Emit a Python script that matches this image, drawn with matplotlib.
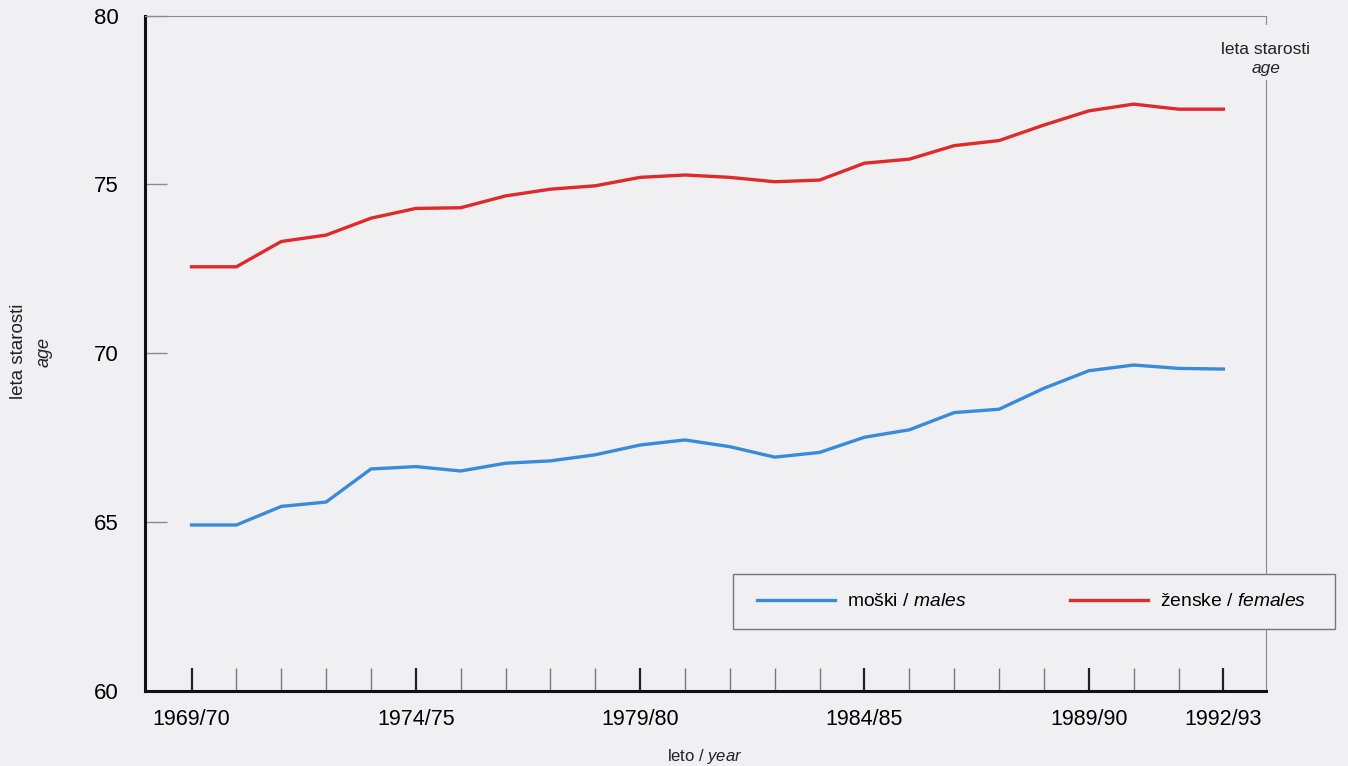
import matplotlib
matplotlib.use("Agg")
import matplotlib.pyplot as plt
from matplotlib.patches import Rectangle

plt.rcParams['font.family'] = ['Liberation Sans', 'DejaVu Sans']
plt.rcParams['mathtext.fontset'] = 'custom'
plt.rcParams['mathtext.rm'] = 'Liberation Sans'
plt.rcParams['mathtext.it'] = 'Liberation Sans:italic'

# ---- data ----
seasons = ["1969/70", "1970/71", "1971/72", "1972/73", "1973/74", "1974/75",
           "1975/76", "1976/77", "1977/78", "1978/79", "1979/80", "1980/81",
           "1981/82", "1982/83", "1983/84", "1984/85", "1985/86", "1986/87",
           "1987/88", "1988/89", "1989/90", "1990/91", "1991/92", "1992/93"]
labelled = ["1969/70", "1974/75", "1979/80", "1984/85", "1989/90", "1992/93"]
males = [64.91, 64.91, 65.46, 65.59, 66.57, 66.64, 66.51, 66.74, 66.81, 66.99,
         67.28, 67.43, 67.23, 66.92, 67.06, 67.51, 67.73, 68.24, 68.34, 68.96,
         69.48, 69.65, 69.55, 69.53]
females = [72.56, 72.56, 73.31, 73.50, 74.00, 74.29, 74.31, 74.66, 74.86, 74.96,
           75.21, 75.28, 75.21, 75.08, 75.13, 75.63, 75.75, 76.15, 76.30, 76.76,
           77.18, 77.38, 77.23, 77.23]
y_ticks = [60, 65, 70, 75, 80]

BG = '#f0f0f2'
BLUE = '#3a8ada'
RED = '#e02a2a'

W, H = 1348, 766
fig = plt.figure(figsize=(W / 100, H / 100), dpi=100, facecolor=BG)
ax = fig.add_axes([145 / W, 1 - 690.7 / H, (1266 - 145) / W, (690.7 - 15.7) / H])
ax.set_facecolor(BG)

x = list(range(len(seasons)))
l_m, = ax.plot(x, males, color=BLUE, lw=2.4, solid_joinstyle='round', zorder=3)
l_f, = ax.plot(x, females, color=RED, lw=2.4, solid_joinstyle='round', zorder=3)

ax.set_xlim(-1.037, 23.95)
ax.set_ylim(60, 80)

major_idx = [seasons.index(s) for s in labelled]
minor_idx = [i for i in x if i not in major_idx]
ax.set_xticks(major_idx)
ax.set_xticklabels(labelled)
ax.set_xticks(minor_idx, minor=True)
ax.tick_params(axis='x', which='major', direction='in', length=16.6, width=1.6,
               color='#222222', labelsize=15.5, pad=13)
ax.tick_params(axis='x', which='minor', direction='in', length=16.6, width=1.0,
               color='#7a7a7a')

ax.set_yticks(y_ticks)
ax.tick_params(axis='y', direction='in', length=15.8, width=1.0, color='#8a8a8a',
               labelsize=16, pad=19)

for side in ('left', 'bottom'):
    ax.spines[side].set_linewidth(2.2)
    ax.spines[side].set_color('#111111')
for side in ('top', 'right'):
    ax.spines[side].set_linewidth(0.8)
    ax.spines[side].set_color('#8a8a8a')

# left axis title
fig.text(19 / W, 1 - 351 / H, 'leta starosti', rotation=90, ha='center', va='center',
         fontsize=13.5, color='#222222')
fig.text(44 / W, 1 - 352 / H, 'age', rotation=90, ha='center', va='center',
         fontsize=13, style='italic', color='#222222')

# right top axis title, breaking the right spine
fig.patches.append(Rectangle((1255 / W, 1 - 80 / H), 22 / W, 55 / H,
                             transform=fig.transFigure, facecolor=BG,
                             edgecolor='none', zorder=3))
fig.text(1265.7 / W, 1 - 49 / H, 'leta starosti', ha='center', va='center',
         fontsize=12.5, color='#222222', zorder=4)
fig.text(1265.7 / W, 1 - 68 / H, 'age', ha='center', va='center',
         fontsize=12.5, style='italic', color='#222222', zorder=4)

# x axis title
fig.text(705 / W, 1 - 756.7 / H, r'leto / $\mathit{year}$', ha='center', va='center',
         fontsize=12, color='#222222')

# legend box
fig.patches.append(Rectangle((733 / W, 1 - 629.3 / H), 602 / W, 55.3 / H,
                             transform=fig.transFigure, facecolor=BG,
                             edgecolor='#777777', lw=1.0, zorder=4))
leg = fig.legend([l_m, l_f], [r'moški / $\mathit{males}$', r'ženske / $\mathit{females}$'],
                 loc='center', bbox_to_anchor=(1031.75 / W, 1 - 601.7 / H),
                 ncol=2, frameon=False, fontsize=13.9, handlelength=4.04,
                 handletextpad=0.62, columnspacing=5.39)
leg.set_zorder(6)

fig.savefig('out.png', dpi=100, facecolor=BG)
